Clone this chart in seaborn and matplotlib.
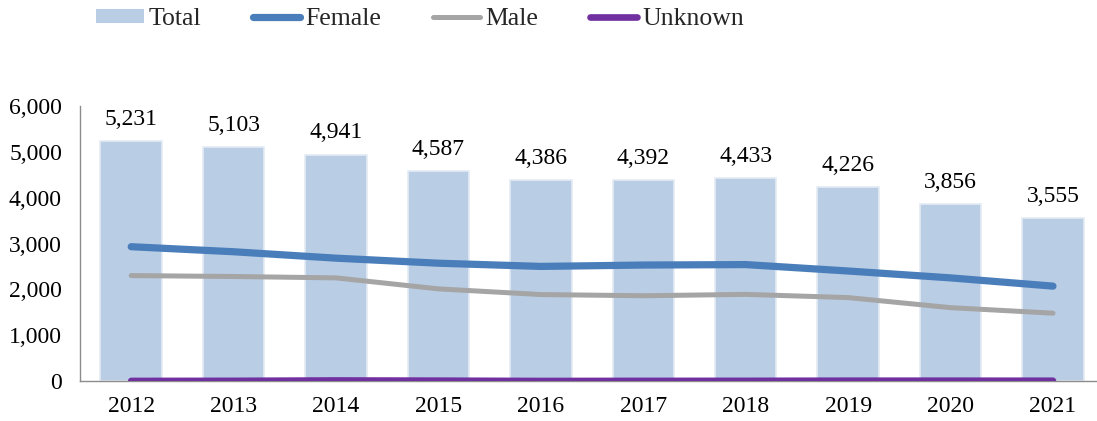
import matplotlib
matplotlib.use("Agg")
import matplotlib.pyplot as plt
import seaborn as sns
import pandas as pd
from matplotlib.patches import Patch
from matplotlib.lines import Line2D

years = ["2012", "2013", "2014", "2015", "2016", "2017", "2018", "2019", "2020", "2021"]
total = [5231, 5103, 4941, 4587, 4386, 4392, 4433, 4226, 3856, 3555]
female = [2930, 2820, 2680, 2570, 2500, 2530, 2540, 2400, 2250, 2070]
male = [2300, 2280, 2250, 2010, 1886, 1860, 1890, 1820, 1600, 1480]
unknown = [1, 3, 11, 7, 0, 2, 3, 6, 6, 5]

df = pd.DataFrame({"Year": years, "Total": total, "Female": female,
                   "Male": male, "Unknown": unknown})

sns.set_theme(style="white")
plt.rcParams["font.family"] = ["Liberation Serif", "DejaVu Serif"]

fig = plt.figure(figsize=(10.97, 4.21), dpi=100)
ax = fig.add_axes([80 / 1097, 40 / 421, 1 - 80 / 1097, 275 / 421])

bar_c = "#b9cde5"
fem_c = "#4a7ebb"
male_c = "#a5a5a5"
unk_c = "#7030a0"

sns.barplot(data=df, x="Year", y="Total", color=bar_c, width=0.6,
            saturation=1, ax=ax, edgecolor="#e4ebf3", linewidth=1.2, zorder=1)

x_idx = list(range(len(years)))
for col, c, lw in [("Female", fem_c, 5.2), ("Male", male_c, 3.6), ("Unknown", unk_c, 4.8)]:
    sns.lineplot(x=x_idx, y=df[col], color=c, linewidth=lw, ax=ax,
                 solid_capstyle="round", zorder=3, legend=False)

for i, v in enumerate(total):
    ax.annotate(f"{v:,}", (i, v), xytext=(0, 8), textcoords="offset points",
                ha="center", va="bottom", fontsize=17, color="black")

ax.set_ylim(0, 6000)
ax.set_xlim(-0.5, 9.43)
ax.set_yticks(range(0, 6001, 1000))
ax.set_yticklabels([f"{t:,}" for t in range(0, 6001, 1000)])
ax.set_xlabel("")
ax.set_ylabel("")
ax.tick_params(axis="both", length=0, labelsize=17, colors="black")
ax.tick_params(axis="y", pad=13)
ax.tick_params(axis="x", pad=11)
for s in ["top", "right"]:
    ax.spines[s].set_visible(False)
for s in ["left", "bottom"]:
    ax.spines[s].set_color("#8c8c8c")
    ax.spines[s].set_linewidth(1.0)
ax.grid(False)

handles = [
    Patch(facecolor=bar_c, edgecolor="none", label="Total"),
    Line2D([0], [0], color=fem_c, lw=5.2, solid_capstyle="round", label="Female"),
    Line2D([0], [0], color=male_c, lw=3.6, solid_capstyle="round", label="Male"),
    Line2D([0], [0], color=unk_c, lw=4.8, solid_capstyle="round", label="Unknown"),
]
fig.legend(handles=handles, loc="center left", bbox_to_anchor=(96 / 1097, 1 - 19 / 421),
           ncol=4, frameon=False, fontsize=18.5, handlelength=1.85, handleheight=0.45,
           handletextpad=0.2, columnspacing=2.0, borderaxespad=0, borderpad=0)

fig.savefig("out.png", dpi=100)
